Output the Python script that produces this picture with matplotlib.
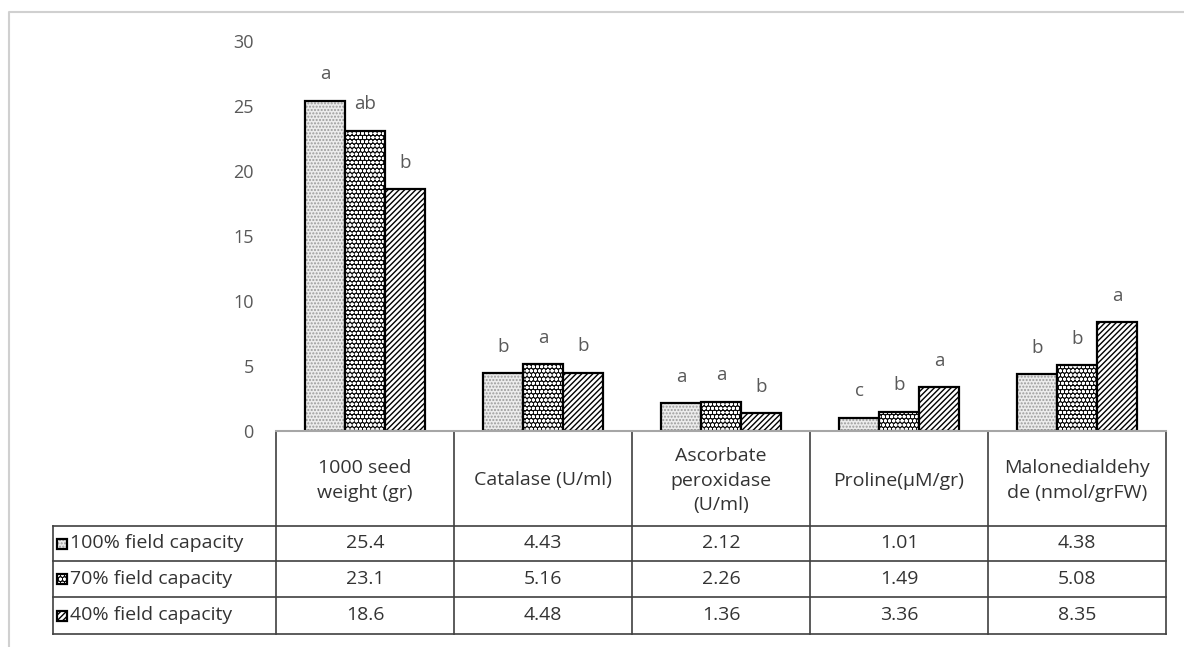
import matplotlib
matplotlib.use("Agg")
import matplotlib.pyplot as plt
from matplotlib.patches import Rectangle
import numpy as np

plt.rcParams['font.family'] = ['Open Sans', 'DejaVu Sans']
plt.rcParams['hatch.linewidth'] = 1.0

# traits and treatment means
traits = ['1000 seed\nweight (gr)', 'Catalase (U/ml)', 'Ascorbate\nperoxidase\n(U/ml)',
          'Proline(\u03bcM/gr)', 'Malonedialdehy\nde (nmol/grFW)']
treatments = ['100% field capacity', '70% field capacity', '40% field capacity']
fc100 = [25.4, 4.43, 2.12, 1.01, 4.38]
fc70 = [23.1, 5.16, 2.26, 1.49, 5.08]
fc40 = [18.6, 4.48, 1.36, 3.36, 8.35]
letters100 = ['a', 'b', 'a', 'c', 'b']
letters70 = ['ab', 'a', 'a', 'b', 'b']
letters40 = ['b', 'b', 'b', 'a', 'a']

series = [fc100, fc70, fc40]
letters = [letters100, letters70, letters40]
# fill style per treatment: (facecolor, hatch colour, hatch)
styles = [('#ececec', '#9a9a9a', '.....'),
          ('#0a0a0a', 'white', 'oooo'),
          ('white', 'black', '//////')]

W, H = 1184, 647
fig = plt.figure(figsize=(W / 100, H / 100), dpi=100)

# pixel-space layer for the data table and frame
tab = fig.add_axes([0, 0, 1, 1])
tab.set_xlim(0, W)
tab.set_ylim(H, 0)
tab.axis('off')

x0, col_w = 276, 178
left = 53
y_axis, y_r1, y_r2, y_r3, y_end = 431, 526, 561, 597, 634
ncol = len(traits)
x_end = x0 + ncol * col_w

ax = fig.add_axes([x0 / W, (H - y_axis) / H, (x_end - x0) / W, (y_axis - 41) / H])
ax.set_facecolor('none')

def draw_bar(axis, x, y, w, h, st, **kw):
    fc, hc, hatch = st
    axis.add_patch(Rectangle((x, y), w, h, facecolor=fc, edgecolor=hc,
                             hatch=hatch, linewidth=0, **kw))
    axis.add_patch(Rectangle((x, y), w, h, facecolor='none', edgecolor='black',
                             linewidth=1.6, **kw))

pos = np.arange(ncol) + 0.5
bw = 40 / col_w
for i, (vals, lets, st) in enumerate(zip(series, letters, styles)):
    xs = pos + (i - 1) * bw
    ax.bar(xs, vals, width=bw, color='none', linewidth=0)
    for x, v, l in zip(xs, vals, lets):
        draw_bar(ax, x - bw / 2, 0, bw, v, st)
        ax.annotate(l, (x, v), xytext=(0, 19), textcoords='offset points',
                    ha='center', va='center', fontsize=13.5, color='#595959')

ax.set_xlim(0, ncol)
ax.set_ylim(0, 30)
ax.set_yticks(np.arange(0, 31, 5))
ax.set_xticks([])
ax.tick_params(axis='y', length=0, pad=16, labelsize=13, labelcolor='#595959')
for s in ['top', 'right', 'left']:
    ax.spines[s].set_visible(False)
ax.spines['bottom'].set_color('#a6a6a6')
ax.spines['bottom'].set_linewidth(1.5)

# table grid
lc, lw = '#404040', 1.2
for k in range(ncol + 1):
    tab.plot([x0 + k * col_w] * 2, [y_axis, y_end], color=lc, lw=lw)
tab.plot([left, left], [y_r1, y_end], color=lc, lw=lw)
for y in [y_r1, y_r2, y_r3, y_end]:
    tab.plot([left, x_end], [y, y], color=lc, lw=lw)

txt = '#333333'
fs = 14
for k, t in enumerate(traits):
    tab.text(x0 + (k + 0.5) * col_w, (y_axis + y_r1) / 2 + 2, t, ha='center',
             va='center', fontsize=fs, color=txt, linespacing=1.45)

rows = [(y_r1, y_r2), (y_r2, y_r3), (y_r3, y_end)]
for (ya, yb), name, vals, st in zip(rows, treatments, series, styles):
    yc = (ya + yb) / 2
    draw_bar(tab, 57, yc - 5, 10, 10, st)
    tab.text(70, yc, name, ha='left', va='center', fontsize=fs, color=txt)
    for k, v in enumerate(vals):
        tab.text(x0 + (k + 0.5) * col_w, yc, f'{v:g}', ha='center',
                 va='center', fontsize=fs, color=txt)

# outer frame
tab.plot([9, 9, W], [H, 12, 12], color='#d0d0d0', lw=1.5)

fig.savefig('out.png', dpi=100)
